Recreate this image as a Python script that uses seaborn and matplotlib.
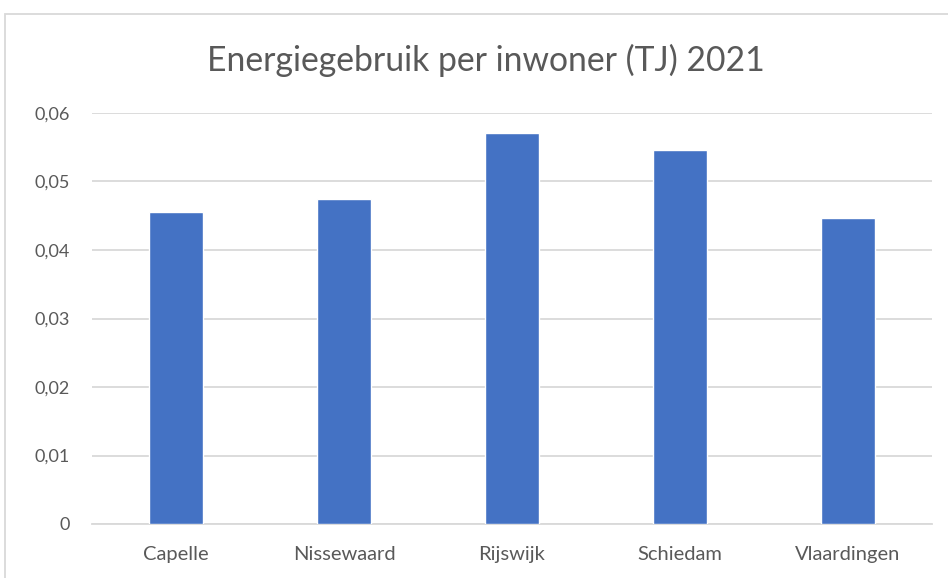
import matplotlib
matplotlib.use("Agg")
import matplotlib.pyplot as plt
import seaborn as sns
import pandas as pd
from matplotlib.patches import Rectangle
from matplotlib.ticker import FuncFormatter

gemeenten = ["Capelle", "Nissewaard", "Rijswijk", "Schiedam", "Vlaardingen"]
energie_per_inwoner = [0.0455, 0.0474, 0.0571, 0.0546, 0.0446]
y_ticks = [0, 0.01, 0.02, 0.03, 0.04, 0.05, 0.06]
titel = "Energiegebruik per inwoner (TJ) 2021"

sns.set_theme(style="white")
plt.rcParams['font.family'] = ['Lato', 'DejaVu Sans']

df = pd.DataFrame({"gemeente": gemeenten, "waarde": energie_per_inwoner})

fig = plt.figure(figsize=(9.48, 5.78), dpi=100)
ax = fig.add_axes([92/948, (578-524)/578, 840/948, (524-113)/578])

sns.barplot(data=df, x="gemeente", y="waarde", color="#4472C4", width=0.32,
            saturation=1, ax=ax, zorder=3)

ax.set_ylim(0, 0.06)
ax.set_xlim(-0.5, len(gemeenten) - 0.5)
ax.set_yticks(y_ticks)
ax.yaxis.set_major_formatter(FuncFormatter(
    lambda v, p: "0" if v == 0 else f"{v:.2f}".replace(".", ",")))
ax.grid(axis="y", color="#d9d9d9", linewidth=1.3, zorder=0)
ax.grid(axis="x", visible=False)
for s in ["top", "right", "left"]:
    ax.spines[s].set_visible(False)
ax.spines["bottom"].set_color("#d9d9d9")
ax.spines["bottom"].set_linewidth(1.3)
ax.tick_params(axis="y", length=0, pad=16, labelsize=13, labelcolor="#595959")
ax.tick_params(axis="x", length=0, pad=16, labelsize=14.5, labelcolor="#595959")
ax.set_xlabel("")
ax.set_ylabel("")

fig.text(0.5 * (207 + 765) / 948, 1 - 60 / 578, titel, ha="center", va="center",
         fontsize=24.3, color="#595959")

fig.patches.append(Rectangle((5/948, -0.1), 2.0, 1 - 14/578 + 0.1,
                             transform=fig.transFigure, fill=False,
                             edgecolor="#d9d9d9", linewidth=1.3, clip_on=False))

fig.savefig("out.png", dpi=100)
